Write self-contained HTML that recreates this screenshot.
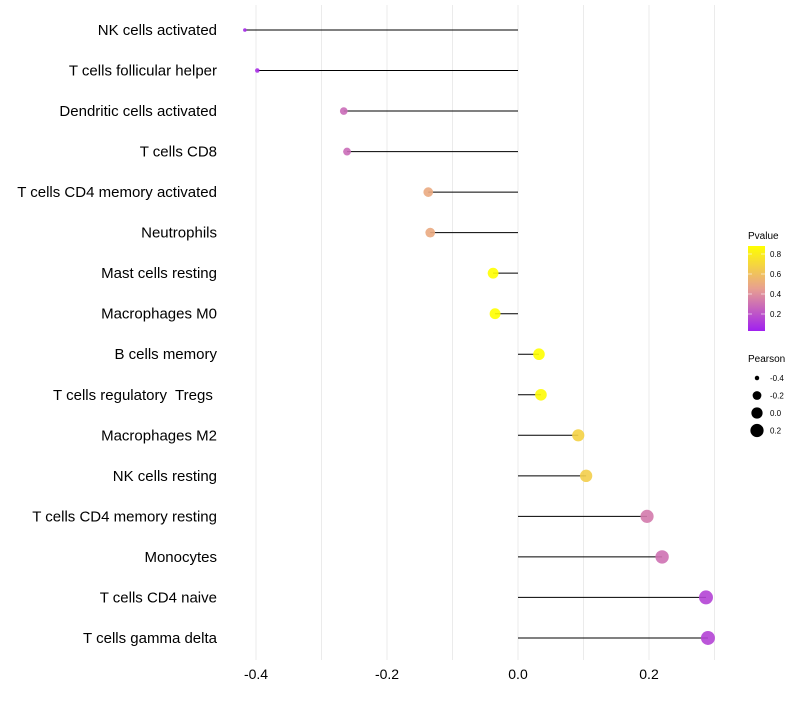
<!DOCTYPE html>
<html><head><meta charset="utf-8"><style>
body{margin:0;background:#fff;font-family:"Liberation Sans",sans-serif}
</style></head><body>
<svg id="chart" width="800" height="700" xmlns="http://www.w3.org/2000/svg">
<defs><linearGradient id="pg" x1="0" y1="1" x2="0" y2="0">
<stop offset="0" stop-color="#A020F0"/><stop offset="0.5" stop-color="#E8A090"/><stop offset="1" stop-color="#FFFF00"/>
</linearGradient></defs>
<g id="grid"></g>
<g id="marks"></g>
<g id="ylabels"></g>
<g id="xlabels"></g>
<g>
<text x="748" y="239" font-size="10" fill="#000">Pvalue</text>
<rect x="748" y="246" width="17" height="85" fill="url(#pg)"/>
<g id="cbticks"></g>
</g>
<g id="sizeleg">
<text x="748" y="362" font-size="10" fill="#000">Pearson</text>
</g>
</svg>
<script>
const categories=["NK cells activated","T cells follicular helper","Dendritic cells activated","T cells CD8","T cells CD4 memory activated","Neutrophils","Mast cells resting","Macrophages M0","B cells memory","T cells regulatory  Tregs ","Macrophages M2","NK cells resting","T cells CD4 memory resting","Monocytes","T cells CD4 naive","T cells gamma delta"];
const pearson=[-0.417,-0.398,-0.266,-0.261,-0.137,-0.134,-0.038,-0.035,0.032,0.035,0.092,0.104,0.197,0.220,0.287,0.290];
const pvalues=[0.06,0.08,0.28,0.28,0.5,0.5,0.88,0.88,0.88,0.86,0.68,0.66,0.33,0.3,0.15,0.15];
const xTicks=[-0.4,-0.2,0.0,0.2];
const xTickLabels=["-0.4","-0.2","0.0","0.2"];
const cbTicks=[0.2,0.4,0.6,0.8];
const sizeBreaks=[-0.4,-0.2,0.0,0.2];
const NS="http://www.w3.org/2000/svg";
const X=v=>518+v*655;
const Y=i=>30+i*40.53;
const R=v=>1+7.07*Math.sqrt(Math.max(0,v+0.43));
const CB=p=>331-(p-0.03)/0.85*85;
function lerp(a,b,t){return a.map((x,i)=>Math.round(x+(b[i]-x)*t));}
function col(p){const t=Math.max(0,Math.min(1,(p-0.03)/0.85));
const s=[[160,32,240],[232,160,144],[255,255,0]];
const c=t<0.5?lerp(s[0],s[1],t*2):lerp(s[1],s[2],(t-0.5)*2);return `rgb(${c})`;}
function mk(tag,attrs,parent,text){const e=document.createElementNS(NS,tag);for(const k in attrs)e.setAttribute(k,attrs[k]);if(text!==undefined)e.textContent=text;parent.appendChild(e);return e;}
const grid=document.getElementById('grid'),marks=document.getElementById('marks'),yl=document.getElementById('ylabels'),xl=document.getElementById('xlabels');
for(let v=-0.4;v<=0.301;v+=0.1){const g=mk('line',{x1:X(v),x2:X(v),y1:5,y2:660,stroke:'#ebebeb','stroke-width':1},grid);

}
xTicks.forEach((v,i)=>{const t=mk('text',{x:X(v),y:679,'font-size':14,'text-anchor':'middle',fill:'#000'},xl,xTickLabels[i]);

});
categories.forEach((c,i)=>{
const t=mk('text',{x:217,y:Y(i)+5,'font-size':15,'text-anchor':'end',fill:'#000',style:'white-space:pre'},yl,c);


const l=mk('line',{x1:X(0),x2:X(pearson[i]),y1:Y(i),y2:Y(i),stroke:'#000','stroke-width':1},marks);


const d=mk('circle',{cx:X(pearson[i]),cy:Y(i),r:R(pearson[i]),fill:col(pvalues[i]),'fill-opacity':0.9},marks);


});
const cb=document.getElementById('cbticks');
cbTicks.forEach(p=>{const y=CB(p);
mk('line',{x1:748,x2:752,y1:y,y2:y,stroke:'#fff','stroke-width':0.6},cb);
mk('line',{x1:761,x2:765,y1:y,y2:y,stroke:'#fff','stroke-width':0.6},cb);
const t=mk('text',{x:770,y:y+3,'font-size':8,fill:'#000'},cb,p.toFixed(1));

});
const sl=document.getElementById('sizeleg');
sizeBreaks.forEach((v,i)=>{const y=378+i*17.5;
const c=mk('circle',{cx:757,cy:y,r:R(v),fill:'#000'},sl);


const t=mk('text',{x:770,y:y+3,'font-size':8,fill:'#000'},sl,v.toFixed(1));

});
</script>
</body></html>
